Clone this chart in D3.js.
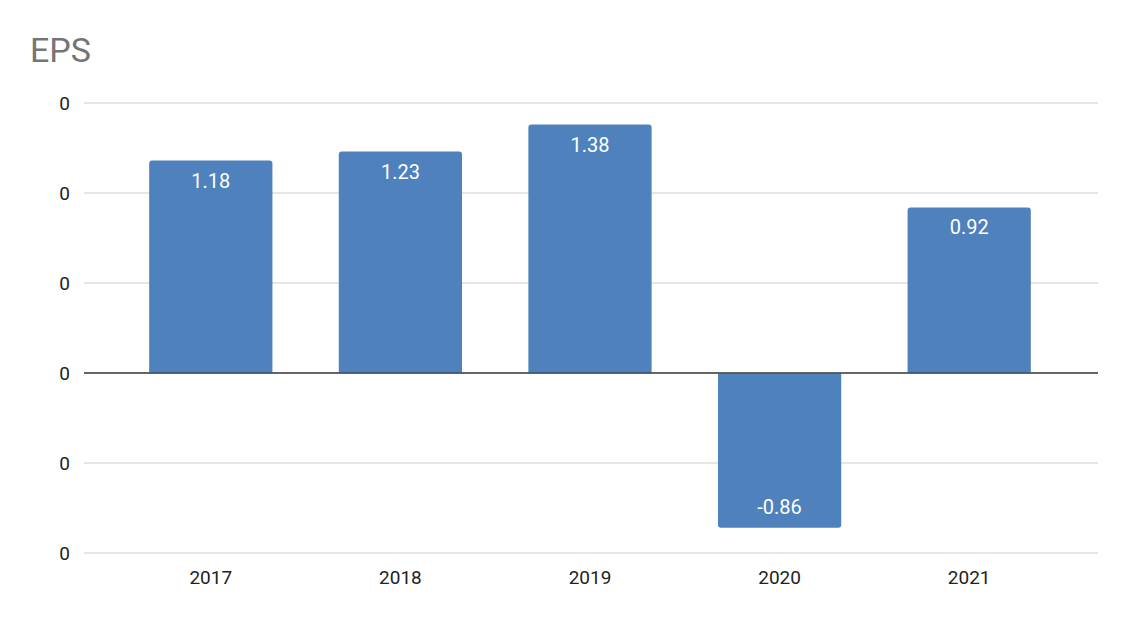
<!DOCTYPE html>
<meta charset="utf-8">
<body style="margin:0;background:#fff">
<svg width="1130" height="620"></svg>
<script src="https://d3js.org/d3.v7.min.js"></script>
<script>
var years = ["2017", "2018", "2019", "2020", "2021"];
var eps = [1.18, 1.23, 1.38, -0.86, 0.92];
var yTicks = [-1, -0.5, 0, 0.5, 1, 1.5];
var yTickLabels = ["0", "0", "0", "0", "0", "0"];

var svg = d3.select("svg");
var font = "Roboto, Arial, sans-serif";

svg.append("text").attr("x", 30).attr("y", 62)
  .attr("font-family", font).attr("font-size", 34).attr("fill", "#757575").text("EPS");

var y = d3.scaleLinear().domain([-1, 1.5]).range([553, 103]);
var x = d3.scaleBand().domain(years).range([116, 1064]).paddingInner(0.35).paddingOuter(0.175);

// grid
svg.append("g").selectAll("line").data(yTicks).join("line")
  .attr("x1", 84).attr("x2", 1098)
  .attr("y1", d => y(d)).attr("y2", d => y(d))
  .attr("stroke", d => d === 0 ? "#333" : "#ccc").attr("stroke-width", 1);

svg.append("g").selectAll("text").data(yTicks).join("text")
  .attr("x", 70).attr("y", d => y(d)).attr("dy", "0.35em")
  .attr("text-anchor", "end").attr("font-family", font).attr("font-size", 19).attr("fill", "#222")
  .text((d, i) => yTickLabels[i]);

// bars
svg.append("g").selectAll("path").data(eps).join("path")
  .attr("fill", "#4f81bd")
  .attr("d", function(d, i) {
    var x0 = x(years[i]), w = x.bandwidth();
    var top = y(Math.max(0, d)), bot = y(Math.min(0, d));
    var p = d3.path(), r = 3;
    if (d >= 0) {
      p.moveTo(x0, bot); p.lineTo(x0, top + r); p.quadraticCurveTo(x0, top, x0 + r, top);
      p.lineTo(x0 + w - r, top); p.quadraticCurveTo(x0 + w, top, x0 + w, top + r); p.lineTo(x0 + w, bot);
    } else {
      p.moveTo(x0, top); p.lineTo(x0, bot - r); p.quadraticCurveTo(x0, bot, x0 + r, bot);
      p.lineTo(x0 + w - r, bot); p.quadraticCurveTo(x0 + w, bot, x0 + w, bot - r); p.lineTo(x0 + w, top);
    }
    p.closePath();
    return p.toString();
  });

svg.append("line").attr("x1", 84).attr("x2", 1098).attr("y1", y(0)).attr("y2", y(0)).attr("stroke", "#333");

svg.append("g").selectAll("text").data(eps).join("text")
  .attr("x", (d, i) => x(years[i]) + x.bandwidth() / 2)
  .attr("y", d => d >= 0 ? y(d) + 27 : y(d) - 14)
  .attr("text-anchor", "middle").attr("font-family", font).attr("font-size", 20).attr("fill", "#fff")
  .text(d => d.toFixed(2));

svg.append("g").selectAll("text").data(years).join("text")
  .attr("x", d => x(d) + x.bandwidth() / 2).attr("y", 584)
  .attr("text-anchor", "middle").attr("font-family", font).attr("font-size", 19).attr("fill", "#222")
  .text(d => d);
</script>
</body>
